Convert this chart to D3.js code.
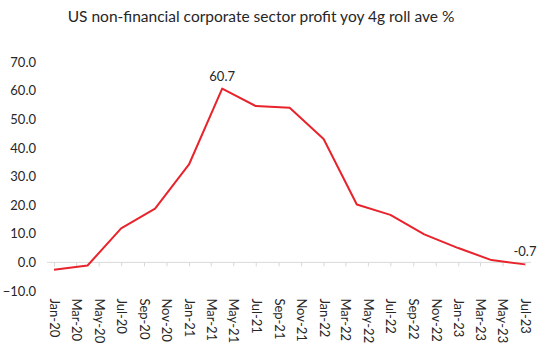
<!DOCTYPE html>
<html>
<head>
<meta charset="utf-8">
<script src="https://cdn.jsdelivr.net/npm/d3@7"></script>
<style>
  body { margin: 0; background: #fff; }
  text { font-family: Lato, "Open Sans", sans-serif; fill: #262626; }
</style>
</head>
<body>
<div id="chart"></div>
<script>
/* US corporate profit yoy line chart */

const quarters = ["Jan-20","Apr-20","Jul-20","Oct-20","Jan-21","Apr-21","Jul-21","Oct-21",
                  "Jan-22","Apr-22","Jul-22","Oct-22","Jan-23","Apr-23","Jul-23"];
const profit = [-2.6, -1.1, 11.9, 18.8, 34.2, 60.7, 54.6, 54.0,
                43.1, 20.2, 16.6, 9.8, 5.0, 0.8, -0.7];
const tickLabels = ["Jan-20","Mar-20","May-20","Jul-20","Sep-20","Nov-20","Jan-21","Mar-21",
                    "May-21","Jul-21","Sep-21","Nov-21","Jan-22","Mar-22","May-22","Jul-22",
                    "Sep-22","Nov-22","Jan-23","Mar-23","May-23","Jul-23"];
const yTicks = [-10, 0, 10, 20, 30, 40, 50, 60, 70];
const labelled = ["Apr-21", "Jul-23"];

const width = 540,
    height = 351,
    margin = ({top: 62, right: 15, bottom: 60, left: 54});

const parse = d3.timeParse("%b-%y");
const data = quarters.map((q, i) => ({date: parse(q), name: q, value: profit[i]}));

let svg = d3.select("#chart")
    .append("svg")
    .attr("width", width)
    .attr("height", height);

let x = d3.scaleTime()
    .domain([parse("Jan-20"), parse("Jul-23")])
    .range([54, 525]);

let y = d3.scaleLinear()
    .domain([-10, 70])
    .range([291, 62]);

// title
svg.append("text")
    .attr("x", 261)
    .attr("y", 22)
    .attr("text-anchor", "middle")
    .style("font-size", "15.5px")
    .text("US non-financial corporate sector profit yoy 4g roll ave %");

// zero line with ticks
const xAxis = g => g
    .attr("transform", `translate(0,${y(0)})`)
    .call(d3.axisBottom(x)
        .tickValues(tickLabels.map(parse))
        .tickFormat(d3.timeFormat("%b-%y"))
        .tickSize(4)
        .tickSizeOuter(0))
    .call(g => g.select(".domain").attr("stroke", "#d9d9d9").attr("d", `M47,0H531`))
    .call(g => g.selectAll(".tick line").attr("stroke", "#d9d9d9"))
    .call(g => g.selectAll(".tick text")
        .attr("transform", "rotate(90)")
        .attr("x", 36)
        .attr("y", 0)
        .attr("dy", "0.35em")
        .attr("text-anchor", "start")
        .style("font-size", "13px"));

svg.append("g").call(xAxis);

const yAxis = g => g
    .attr("transform", "translate(36,0)")
    .call(d3.axisLeft(y).tickValues(yTicks).tickFormat(d3.format(".1f")).tickSize(0).tickPadding(0))
    .call(g => g.select(".domain").remove())
    .call(g => g.selectAll(".tick text").style("font-size", "13px"));

svg.append("g").call(yAxis);

let line = d3.line()
    .x(d => x(d.date))
    .y(d => y(d.value));

svg.append("path")
    .datum(data)
    .attr("fill", "none")
    .attr("stroke", "#e8232b")
    .attr("stroke-width", 2)
    .attr("stroke-linejoin", "round")
    .attr("d", line);

svg.selectAll(".lbl")
    .data(data.filter(d => labelled.includes(d.name)))
    .join("text")
    .attr("class", "lbl")
    .attr("x", d => x(d.date))
    .attr("y", d => y(d.value) - 8)
    .attr("text-anchor", "middle")
    .style("font-size", "13px")
    .text(d => d.value.toFixed(1));
</script>
</body>
</html>
